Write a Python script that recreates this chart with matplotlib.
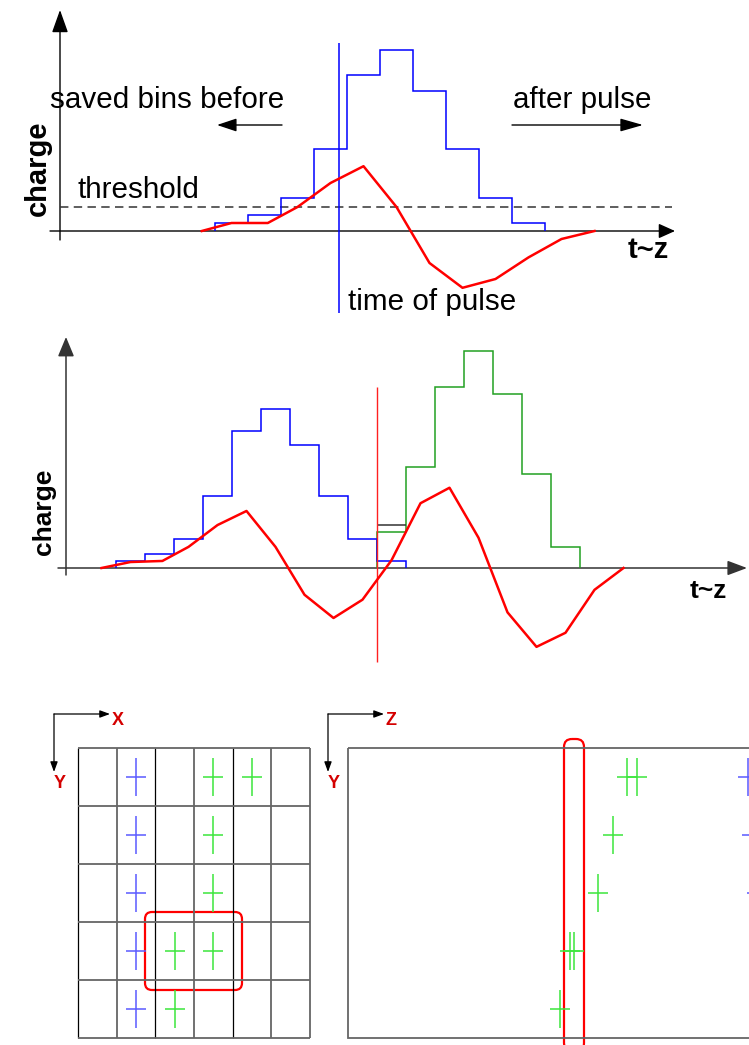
import numpy as np
import matplotlib
matplotlib.use('Agg')
import matplotlib.pyplot as plt
from matplotlib.patches import FancyBboxPatch, Rectangle

plt.rcParams['font.family'] = ['Liberation Sans', 'DejaVu Sans']

# ---------------- data ----------------
# panel 1 : one pulse, binned charge (blue) and shaped signal (red)
p1_bin_edges = np.arange(5, 16)
p1_charge = [1, 2, 4.1, 10.2, 19.5, 22.6, 17.5, 10.2, 4.1, 1]
p1_shaped_t = [4.6, 5.5, 6.6, 7.5, 8.5, 9.5, 10.5, 11.5, 12.5, 13.5, 14.5, 15.5, 16.5]
p1_shaped_q = [0, 1, 1, 3, 6, 8.1, 3, -4, -7.1, -6, -3.3, -1, 0]
p1_threshold = 3.0
p1_pulse_time = 8.76

# panel 2 : two overlapping pulses
p2_blue_edges = np.arange(5, 16)
p2_blue_charge = [1, 2, 4.1, 10.2, 19.5, 22.6, 17.5, 10.2, 4.1, 1]
p2_green_edges = np.arange(14, 22)
p2_green_charge = [5.1, 14.3, 25.7, 30.8, 24.7, 13.4, 3.0]
p2_shaped_t = [4.5, 5.5, 6.6, 7.5, 8.5, 9.5, 10.5, 11.5, 12.5, 13.5, 14.5, 15.5,
               16.5, 17.5, 18.5, 19.5, 20.5, 21.5, 22.5]
p2_shaped_q = [0, 0.85, 1, 3, 6.1, 8.1, 3, -3.8, -7.1, -4.5, 1.1, 9.2,
               11.4, 4.3, -6.3, -11.2, -9.2, -3.1, 0]
p2_split_time = 14.0

# panel 3 : pad hits in X-Y (column, row) and Z-Y (z, row)
xy_blue_col = [1, 1, 1, 1, 1]
xy_blue_row = [0, 1, 2, 3, 4]
xy_green_col = [3, 4, 3, 3, 2, 3, 2]
xy_green_row = [0, 0, 1, 2, 3, 3, 4]
n_cols, n_rows = 6, 5
zy_green_z = [27.9, 28.9, 26.5, 25.0, 22.2, 22.6, 21.2]
zy_green_row = [0, 0, 1, 2, 3, 3, 4]
zy_blue_z = [40.0, 40.4, 40.9, 41.4, 41.9]
zy_blue_row = [0, 1, 2, 3, 4]

# ---------------- figure ----------------
W, H = 749, 1045
fig = plt.figure(figsize=(W / 100, H / 100), dpi=100)


def make_axes(x0, xs, y0, ys):
    """Full-figure transparent axes: data x = (px-x0)/xs, data y = (y0-py)/ys."""
    ax = fig.add_axes([0, 0, 1, 1])
    ax.set_xlim((0 - x0) / xs, (W - x0) / xs)
    ax.set_ylim((y0 - H) / ys, (y0 - 0) / ys)
    ax.axis('off')
    ax.patch.set_alpha(0)
    return ax


deco = make_axes(0, 1, 0, -1)          # pixel space for decorations


def arrow(x1, y1, x2, y2, hl, hw, lw=1.0, color='black'):
    deco.annotate('', xy=(x2, y2), xytext=(x1, y1),
                  arrowprops=dict(arrowstyle=f'-|>,head_length={hl},head_width={hw}',
                                  lw=lw, color=color, shrinkA=0, shrinkB=0,
                                  mutation_scale=1))


# ---------- panel 1 ----------
a1 = make_axes(50, 33, 231, 8)
a1.stairs(p1_charge, p1_bin_edges, baseline=0, color='#0000ff', lw=1.1, zorder=3)
a1.plot(p1_shaped_t, p1_shaped_q, color='#ff0000', lw=1.8, zorder=4)
a1.hlines(p1_threshold, (60 - 50) / 33, (672 - 50) / 33, colors='#333333', lw=1.1,
          linestyles=(0, (5.5, 3.5)), zorder=2)
a1.vlines(p1_pulse_time, (231 - 313) / 8, (231 - 43) / 8, colors='#0000ff', lw=1.1, zorder=3)

arrow(60, 240, 60, 10, 14, 5, lw=1.0)
arrow(50, 231, 675, 231, 10, 4.5, lw=1.0)
arrow(282, 125, 217, 125, 12, 4, lw=1.0)
arrow(512, 125, 643, 125, 14, 4, lw=1.0)

fs = 21.3
deco.text(50, 108, 'saved bins before', fontsize=fs, ha='left', va='baseline')
deco.text(513, 108, 'after pulse', fontsize=fs, ha='left', va='baseline')
deco.text(77, 198, 'threshold', fontsize=fs, ha='left', va='baseline')
deco.text(348, 310, 'time of pulse', fontsize=fs, ha='left', va='baseline')
deco.text(38, 168, 'charge', fontsize=21, fontweight='bold', rotation=90,
          ha='center', va='center')
deco.text(628, 258, 't~z', fontsize=21, fontweight='bold', ha='left', va='baseline')

# ---------- panel 2 ----------
a2 = make_axes(-29, 29, 568, 7.04)
a2.stairs(p2_green_charge, p2_green_edges, baseline=0, color='#22a022', lw=1.1, zorder=3)
overlap = p2_blue_charge[-1] + p2_green_charge[0]
a2.stairs([overlap], [p2_green_edges[0], p2_blue_edges[-1]], baseline=None,
          color='#333333', lw=1.1, zorder=3)
a2.stairs(p2_blue_charge, p2_blue_edges, baseline=0, color='#0000ff', lw=1.1, zorder=3)
a2.plot(p2_shaped_t, p2_shaped_q, color='#ff0000', lw=1.8, zorder=5)
a2.vlines(p2_split_time, (568 - 662) / 7.04, (568 - 387) / 7.04, colors='#ff2020',
          lw=1.0, zorder=4)

arrow(66, 575, 66, 337, 12, 5, lw=1.1, color='#333333')
arrow(58, 568, 747, 568, 12, 4.5, lw=1.1, color='#333333')
deco.text(44, 512, 'charge', fontsize=19, fontweight='bold', rotation=90,
          ha='center', va='center')
deco.text(690, 598, 't~z', fontsize=19, fontweight='bold', ha='left', va='baseline')

# ---------- panel 3 left (X-Y) ----------
colw, rowh = 38.67, 58
a3 = make_axes(78, colw, 748, -rowh)
for c in range(n_cols + 1):
    gray = c in (1, 3, 5, 6)
    a3.vlines(c, 0, n_rows, colors='#666666' if gray else 'black',
              lw=1.3 if gray else 0.9)
for r in range(n_rows + 1):
    a3.hlines(r, 0, n_cols, colors='#666666', lw=1.3)

hw3, hh3 = 10 / colw, 19 / rowh
bx = np.array(xy_blue_col) + 0.5
by = np.array(xy_blue_row) + 0.5
gx = np.array(xy_green_col) + 0.5
gy = np.array(xy_green_row) + 0.5
a3.hlines(by, bx - hw3, bx + hw3, colors='#5a5aff', lw=1.1)
a3.vlines(bx, by - hh3, by + hh3, colors='#5a5aff', lw=1.1)
a3.hlines(gy, gx - hw3, gx + hw3, colors='#3ce63c', lw=1.1)
a3.vlines(gx, gy - hh3, gy + hh3, colors='#3ce63c', lw=1.1)

deco.add_patch(FancyBboxPatch((145, 912), 97, 78, boxstyle='round,pad=0,rounding_size=7',
                              fill=False, ec='#ff0000', lw=1.6, zorder=6))

# ---------- panel 3 right (Z-Y) ----------
a4 = make_axes(348, 10, 748, -rowh)
a4.add_patch(Rectangle((0, 0), 60, n_rows, fill=False, ec='#666666', lw=1.3))
hw4 = 10 / 10
zg = np.array(zy_green_z)
rg = np.array(zy_green_row) + 0.5
zb = np.array(zy_blue_z)
rb = np.array(zy_blue_row) + 0.5
a4.hlines(rg, zg - hw4, zg + hw4, colors='#3ce63c', lw=1.1)
a4.vlines(zg, rg - hh3, rg + hh3, colors='#3ce63c', lw=1.1)
a4.hlines(rb, zb - hw4, zb + hw4, colors='#5a5aff', lw=1.1)
a4.vlines(zb, rb - hh3, rb + hh3, colors='#5a5aff', lw=1.1)

deco.add_patch(FancyBboxPatch((564, 739), 20, 312, boxstyle='round,pad=0,rounding_size=8',
                              fill=False, ec='#ff0000', lw=1.6, zorder=6))

# coordinate indicators
for cx, lab in ((54, 'X'), (328, 'Z')):
    arrow(cx, 714, cx + 56, 714, 6, 2.2, lw=0.9)
    arrow(cx, 714, cx, 772, 6, 2.2, lw=0.9)
    deco.text(cx + 58, 725, lab, fontsize=13, fontweight='bold', color='#d40000',
              ha='left', va='baseline')
    deco.text(cx, 788, 'Y', fontsize=13, fontweight='bold', color='#d40000',
              ha='left', va='baseline')

fig.savefig('out.png', dpi=100)
